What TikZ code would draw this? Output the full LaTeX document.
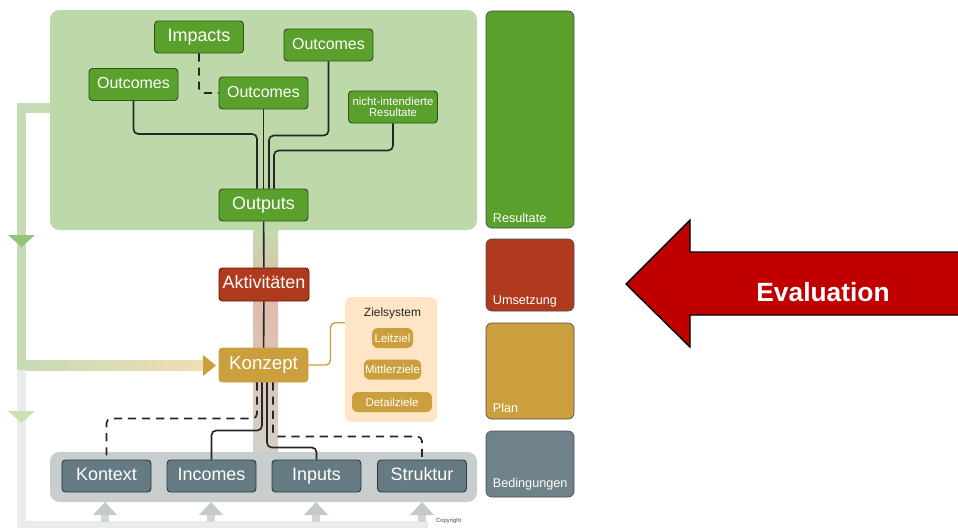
\documentclass[tikz,border=0pt]{standalone}
\usepackage{fontspec}
\setmainfont{Liberation Sans}
\usetikzlibrary{calc,positioning}

\definecolor{panelgreen}{HTML}{BDD9A9}
\definecolor{panelgray}{HTML}{C8CDCD}
\definecolor{nodegreen}{HTML}{5AA02C}
\definecolor{nodegreenD}{HTML}{2D5518}
\definecolor{nodered}{HTML}{B03A1E}
\definecolor{noderedD}{HTML}{5E1A0C}
\definecolor{nodegold}{HTML}{CC9F3E}
\definecolor{nodegoldD}{HTML}{8A6A22}
\definecolor{nodegray}{HTML}{657A82}
\definecolor{nodegrayD}{HTML}{2C3C42}
\definecolor{colgray}{HTML}{6F8289}
\definecolor{goalpanel}{HTML}{FDE5C6}
\definecolor{fbgreen}{HTML}{C6DBB6}
\definecolor{fbtan}{HTML}{F2DDB2}
\definecolor{fbgray}{HTML}{E9ECEB}
\definecolor{trigreen}{HTML}{92C47A}
\definecolor{trilight}{HTML}{C9E3B6}
\definecolor{trigray}{HTML}{C4C9C9}
\definecolor{bandgreen}{HTML}{C3DBB0}
\definecolor{bandred}{HTML}{E2BBA8}
\definecolor{bandgray}{HTML}{D4D0C8}
\definecolor{linkdark}{HTML}{262626}
\definecolor{evalred}{HTML}{C00000}

\begin{document}
\begin{tikzpicture}[x=0.03cm,y=-0.03cm,
    box/.style={rounded corners=3pt,line width=0.8pt,text=white,
      minimum width=2.67cm,minimum height=0.96cm,inner sep=1pt,
      text height=0.8em,text depth=0.1em,
      font=\fontsize{15.3}{17}\selectfont},
    greenbox/.style={box,draw=nodegreenD,fill=nodegreen},
    redbox/.style={box,draw=noderedD,fill=nodered},
    goldbox/.style={box,draw=nodegold,fill=nodegold},
    graybox/.style={box,draw=nodegrayD,fill=nodegray},
    goalbox/.style={rounded corners=5pt,fill=nodegold,text=white,
      minimum height=0.6cm,inner sep=1pt,font=\fontsize{9.8}{11}\selectfont},
    colbox/.style={rounded corners=5pt,draw=black!70,line width=0.6pt,
      minimum width=2.64cm},
    collabel/.style={anchor=base west,text=white,inner sep=0pt,
      font=\fontsize{10.8}{12}\selectfont},
    link/.style={draw=linkdark,line width=1.4pt,rounded corners=4pt},
    dashlink/.style={link,dash pattern=on 7pt off 5pt}]
  \useasboundingbox (0,0) rectangle (958,528);

  % Feedback loop
  \fill[fbgreen] (17,103) rectangle (50,113);
  \fill[fbgreen] (17,103) rectangle (26,370);
  \shade[left color=fbgreen,right color=fbtan] (26,360) rectangle (204,370);
  \fill[fbgray] (17,370) rectangle (26,528);
  \fill[fbgray] (17,521) rectangle (428,528);
  \fill[trigreen] (8,235) -- (35,235) -- (21.5,247) -- cycle;
  \fill[trilight] (8,411) -- (35,411) -- (21.5,423) -- cycle;
  \fill[nodegold] (203,355) -- (216,365.5) -- (203,376) -- cycle;
  \foreach \x in {105,211,316,422}{
    \fill[fbgray!80!gray] (\x-4,514) rectangle (\x+4,522);
    \fill[trigray] (\x-12,515) -- (\x+12,515) -- (\x,502) -- cycle;
  }

  % Panels
  \fill[panelgreen,rounded corners=8pt] (50,10) rectangle (477,230);
  \shade[top color=bandgreen,bottom color=bandred] (253,230) rectangle (278,292);
  \shade[top color=bandred,bottom color=bandgray] (253,292) rectangle (278,452);
  \fill[panelgray,rounded corners=8pt] (50,452) rectangle (477,502);

  % Results
  \node[greenbox,font=\fontsize{15.3}{17}\selectfont] (impacts) at (199,37) {Impacts};
  \node[greenbox,font=\fontsize{13.6}{15}\selectfont] (outTR) at (328.5,45) {Outcomes};
  \node[greenbox,font=\fontsize{13.6}{15}\selectfont] (outL) at (133.5,84.5) {Outcomes};
  \node[greenbox,font=\fontsize{13.6}{15}\selectfont] (outM) at (263.5,93) {Outcomes};
  \node[greenbox,align=center,text height=,text depth=,font=\fontsize{9.7}{9.7}\selectfont]
    (unint) at (393,107) {nicht-intendierte\\Resultate};
  \node[greenbox] (outputs) at (263.5,205) {Outputs};

  \draw[dashlink] (impacts.south) |- (outM.west);
  \draw[link] (outL.south) -- ++(0,33) -| ($(outputs.north)+(-6.5,0)$);
  \draw[link] (outM.south) -- (outputs.north);
  \draw[link] (outTR.south) -- ++(0,74) -| ($(outputs.north)+(5.5,0)$);
  \draw[link] (unint.south) -- ++(0,27) -| ($(outputs.north)+(10.5,0)$);

  % Activities and concept
  \node[redbox,minimum width=2.7cm,minimum height=0.99cm] (akt) at (264,284.5) {Aktivitäten};
  \node[goldbox,minimum height=1.02cm,font=\fontsize{16}{18}\selectfont] (konzept) at (263.5,365) {Konzept};
  \draw[link] (outputs) -- (akt);
  \draw[link] (akt) -- (konzept);

  % Goal system
  \node[fill=goalpanel,rounded corners=6pt,minimum width=2.76cm,minimum height=3.75cm]
    (ziel) at (391,359.5) {};
  \node[text=black!85,font=\fontsize{10.2}{12}\selectfont] (zieltitle) at (392.5,313) {Zielsystem};
  \node[goalbox,minimum width=1.23cm] (leitziel) at (392.5,338) {Leitziel};
  \node[goalbox,minimum width=1.71cm] (mittler) at (392.5,369.5) {Mittlerziele};
  \node[goalbox,minimum width=2.4cm] (detail) at (392,402) {Detailziele};
  \draw[nodegold,line width=1.2pt,rounded corners=4pt] (konzept.east) -- ++(22,0)
    |- ([yshift=-0.78cm]ziel.north west);

  % Conditions
  \node[graybox] (kontext) at (106.5,476) {Kontext};
  \node[graybox] (incomes) at (211.5,476) {Incomes};
  \node[graybox] (inputs) at (316.5,476) {Inputs};
  \node[graybox] (struktur) at (422,476) {Struktur};

  \draw[dashlink] ($(konzept.south)+(-6.5,0)$) -- ++(0,36) -| (kontext.north);
  \draw[link] ($(konzept.south)+(-1.5,0)$) -- ++(0,48) -| (incomes.north);
  \draw[link] ($(konzept.south)+(3.5,0)$) -- ++(0,65) -| (inputs.north);
  \draw[dashlink] ($(konzept.south)+(9.5,0)$) -- ++(0,54) -| (struktur.north);

  % Levels
  \node[colbox,fill=nodegreen,minimum height=6.51cm] (resultate) at (530,119.5) {};
  \node[colbox,fill=nodered,minimum height=2.16cm] (umsetzung) at (530,275) {};
  \node[colbox,fill=nodegold,minimum height=2.88cm] (plan) at (530,371) {};
  \node[colbox,fill=colgray,minimum height=1.98cm] (bedingungen) at (530,464) {};
  \node[collabel] at ($(resultate.south west)+(7,-6)$) {Resultate};
  \node[collabel] at ($(umsetzung.south west)+(7,-7)$) {Umsetzung};
  \node[collabel] at ($(plan.south west)+(7,-7)$) {Plan};
  \node[collabel] at ($(bedingungen.south west)+(7,-10)$) {Bedingungen};

  % Evaluation arrow
  \filldraw[fill=evalred,draw=black,line width=1.2pt]
    (962,252) -- (690,252) -- (690,220) -- (626,284) -- (690,347)
    -- (690,315) -- (962,315) -- cycle;
  \node[text=white,font=\fontsize{22.5}{26}\bfseries\selectfont] (evaluation) at (823,292) {Evaluation};

  % Copyright
  \node[anchor=west,inner sep=0pt,text=black!70,font=\fontsize{5}{6}\selectfont]
    (copyright) at (436,521) {Copyright};
\end{tikzpicture}
\end{document}
